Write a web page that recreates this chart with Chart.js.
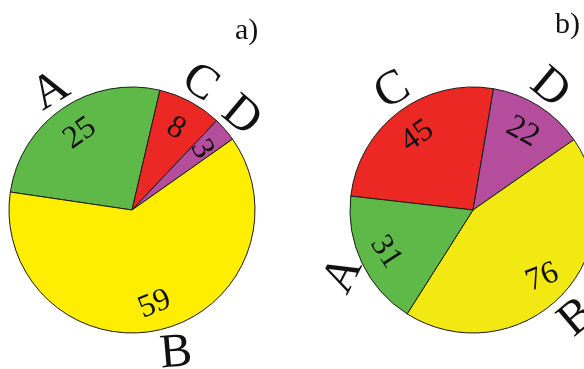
<!DOCTYPE html>
<html>
<head>
<meta charset="utf-8">
<script src="https://cdn.jsdelivr.net/npm/chart.js@4"></script>
<style>
  html, body { margin: 0; padding: 0; width: 584px; height: 369px; overflow: hidden; background: #fff; }
  canvas { position: absolute; top: 0; }
  #c1 { left: -78px; }
  #c2 { left: 263px; }
</style>
</head>
<body>
<canvas id="c1" width="420" height="420"></canvas>
<canvas id="c2" width="420" height="420"></canvas>
<script>
// ---- data ----
const panelATitle = 'a)';
const panelALabels = ['A', 'C', 'D', 'B'];
const panelAValues = [25, 8, 3, 59];

const panelBTitle = 'b)';
const panelBLabels = ['C', 'D', 'B', 'A'];
const panelBValues = [45, 22, 76, 31];

// ---- styles ----
const colorA = { A: '#5EB948', B: '#FFEE00', C: '#EC2825', D: '#B44D9C' };
const colorB = { A: '#5EB948', B: '#F2E912', C: '#EC2825', D: '#B44D9C' };
// text rotation (deg) and small angular nudge (deg) of the outer letters
const rotA = { outer: [-31, 35, 40, -5], inner: [-35, 30, 60, -22], nudge: [0, 0, 0, -4] };
const rotB = { outer: [-30, 40, -40, -63], inner: [-35, 29, -22, 57], nudge: [3, 0, 2, 0] };

const FONT = '"Liberation Serif", "Times New Roman", serif';

function labelPlugin(rot, title, titleDX, titleDY) {
  return {
    id: 'pieLabels',
    afterDatasetsDraw(chart) {
      const ctx = chart.ctx;
      const meta = chart.getDatasetMeta(0);
      const labels = chart.data.labels;
      const values = chart.data.datasets[0].data;
      let cx = 0, cy = 0;
      meta.data.forEach((arc, i) => {
        const p = arc.getProps(['x', 'y', 'startAngle', 'endAngle', 'outerRadius'], true);
        cx = p.x; cy = p.y;
        const mid = (p.startAngle + p.endAngle) / 2;
        const draw = (txt, ang, r, size, deg) => {
          ctx.save();
          ctx.translate(p.x + Math.cos(ang) * r, p.y + Math.sin(ang) * r);
          ctx.rotate(deg * Math.PI / 180);
          ctx.font = size + 'px ' + FONT;
          ctx.fillStyle = '#111';
          ctx.textAlign = 'center';
          ctx.textBaseline = 'alphabetic';
          ctx.fillText(txt, 0, size * 0.33);
          ctx.restore();
        };
        draw(String(values[i]), mid, p.outerRadius * 0.77, 32, rot.inner[i]);
        draw(labels[i], mid + rot.nudge[i] * Math.PI / 180, p.outerRadius + 24, 48, rot.outer[i]);
      });
      ctx.save();
      ctx.font = '30px ' + FONT;
      ctx.fillStyle = '#111';
      ctx.textAlign = 'left';
      ctx.textBaseline = 'alphabetic';
      ctx.fillText(title, cx + titleDX, cy + titleDY);
      ctx.restore();
    }
  };
}

function makePie(id, labels, values, colors, rotation, rot, title, tdx, tdy) {
  return new Chart(document.getElementById(id), {
    type: 'pie',
    data: {
      labels: labels,
      datasets: [{
        data: values,
        backgroundColor: labels.map(l => colors[l]),
        borderColor: '#1a1a1a',
        borderWidth: 1,
        radius: 123
      }]
    },
    options: {
      responsive: false,
      animation: false,
      rotation: rotation,
      layout: { padding: 0 },
      plugins: { legend: { display: false }, tooltip: { enabled: false } }
    },
    plugins: [labelPlugin(rot, title, tdx, tdy)]
  });
}

makePie('c1', panelALabels, panelAValues, colorA, -81.6, rotA, panelATitle, 103, -171);
makePie('c2', panelBLabels, panelBValues, colorB, -83.5, rotB, panelBTitle, 82, -177);
</script>
</body>
</html>
